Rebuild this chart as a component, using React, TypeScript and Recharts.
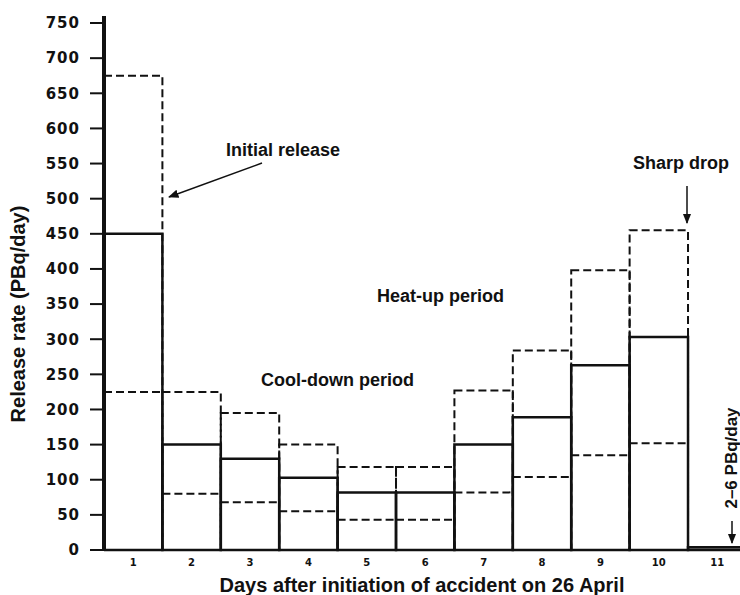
import React from 'react';
import { ComposedChart, Bar, XAxis, YAxis } from 'recharts';

// days after initiation (x categories)
const days = [1, 2, 3, 4, 5, 6, 7, 8, 9, 10, 11];
// release rate, PBq/day
const central = [450, 150, 130, 103, 82, 82, 150, 189, 263, 303, 4];
const upper = [675, 225, 195, 150, 118, 118, 227, 284, 398, 455, null];
const lower = [225, 80, 68, 55, 43, 43, 82, 104, 135, 152, null];
const yTicks = [0, 50, 100, 150, 200, 250, 300, 350, 400, 450, 500, 550, 600, 650, 700, 750];

const data = days.map((day, i) => ({
    day,
    central: central[i],
    upper: upper[i],
    lower: lower[i],
}));

const X_DOMAIN: [number, number] = [0.5, 11.39];
const BAR_W = 58.4;
const INK = '#111';
const DASH = '8 4';

const tickFont = { fontFamily: "'DejaVu Sans', sans-serif", fontWeight: 700 };
const noteStyle: React.CSSProperties = {
    fontFamily: "'Liberation Sans', Arial, sans-serif",
    fontWeight: 700,
    fontSize: 18,
};

// only the top edge of the bar: lower estimate level
const LowerMark = (p: any) => {
    if (p.height == null || !p.width) return null;
    return (
        <line
            x1={p.x}
            x2={p.x + p.width}
            y1={p.y}
            y2={p.y}
            stroke={INK}
            strokeWidth={2}
            strokeDasharray={DASH}
        />
    );
};

const App: React.FC = () => {
    return (
        <div style={{ position: 'absolute', left: 0, top: 0, background: '#fff' }}>
            <ComposedChart
                width={740}
                height={595}
                data={data}
                margin={{ top: 16, right: 0, left: 0, bottom: 0 }}
            >
                <defs>
                    <marker id="arr" viewBox="0 0 10 10" refX="9" refY="5" markerWidth="7" markerHeight="7" orient="auto">
                        <path d="M0,1 L10,5 L0,9 z" fill={INK} />
                    </marker>
                </defs>

                <XAxis
                    dataKey="day"
                    type="number"
                    domain={X_DOMAIN}
                    ticks={days}
                    allowDataOverflow
                    height={45}
                    axisLine={{ stroke: INK, strokeWidth: 2 }}
                    tickLine={false}
                    tickSize={6}
                    tickMargin={3}
                    tick={{ ...tickFont, fontSize: 10, fill: INK }}
                />
                <XAxis xAxisId="up" dataKey="day" type="number" domain={X_DOMAIN} allowDataOverflow hide />
                <XAxis xAxisId="lo" dataKey="day" type="number" domain={X_DOMAIN} allowDataOverflow hide />

                <YAxis
                    width={104}
                    domain={[0, 760]}
                    ticks={yTicks}
                    interval={0}
                    axisLine={{ stroke: INK, strokeWidth: 4 }}
                    tickLine={{ stroke: INK, strokeWidth: 2 }}
                    tickSize={14}
                    tickMargin={10}
                    tick={{ ...tickFont, fontSize: 15, fill: INK, letterSpacing: 1 }}
                />

                {/* upper estimate, dashed boxes */}
                <Bar
                    xAxisId="up"
                    dataKey="upper"
                    barSize={BAR_W}
                    fill="none"
                    stroke={INK}
                    strokeWidth={2}
                    strokeDasharray={DASH}
                    isAnimationActive={false}
                />
                {/* lower estimate, dashed level */}
                <Bar
                    xAxisId="lo"
                    dataKey="lower"
                    barSize={BAR_W}
                    shape={LowerMark}
                    isAnimationActive={false}
                />
                {/* best estimate, solid boxes */}
                <Bar
                    dataKey="central"
                    barSize={BAR_W}
                    fill="none"
                    stroke={INK}
                    strokeWidth={2.5}
                    isAnimationActive={false}
                />

                {/* axis titles */}
                <text x={422} y={592} textAnchor="middle" fill={INK} style={{ ...noteStyle, fontSize: 20 }}>
                    Days after initiation of accident on 26 April
                </text>
                <text transform="translate(25,314) rotate(-90)" textAnchor="middle" fill={INK} style={{ ...noteStyle, fontSize: 20 }}>
                    Release rate (PBq/day)
                </text>

                {/* annotations */}
                <text x={226} y={156} fill={INK} style={noteStyle}>Initial release</text>
                <line x1={262} y1={163} x2={169} y2={197} stroke={INK} strokeWidth={1.5} markerEnd="url(#arr)" />
                <text x={377} y={302} fill={INK} style={noteStyle}>Heat-up period</text>
                <text x={261} y={386} fill={INK} style={noteStyle}>Cool-down period</text>
                <text x={633} y={169} fill={INK} style={noteStyle}>Sharp drop</text>
                <line x1={687} y1={186} x2={687} y2={223} stroke={INK} strokeWidth={1.5} markerEnd="url(#arr)" />
                <text transform="translate(737,458) rotate(-90)" textAnchor="middle" fill={INK} style={{ ...noteStyle, fontSize: 17 }}>
                    2–6 PBq/day
                </text>
                <line x1={732} y1={521} x2={732} y2={543} stroke={INK} strokeWidth={1.5} markerEnd="url(#arr)" />
            </ComposedChart>
        </div>
    );
};

export default App;
